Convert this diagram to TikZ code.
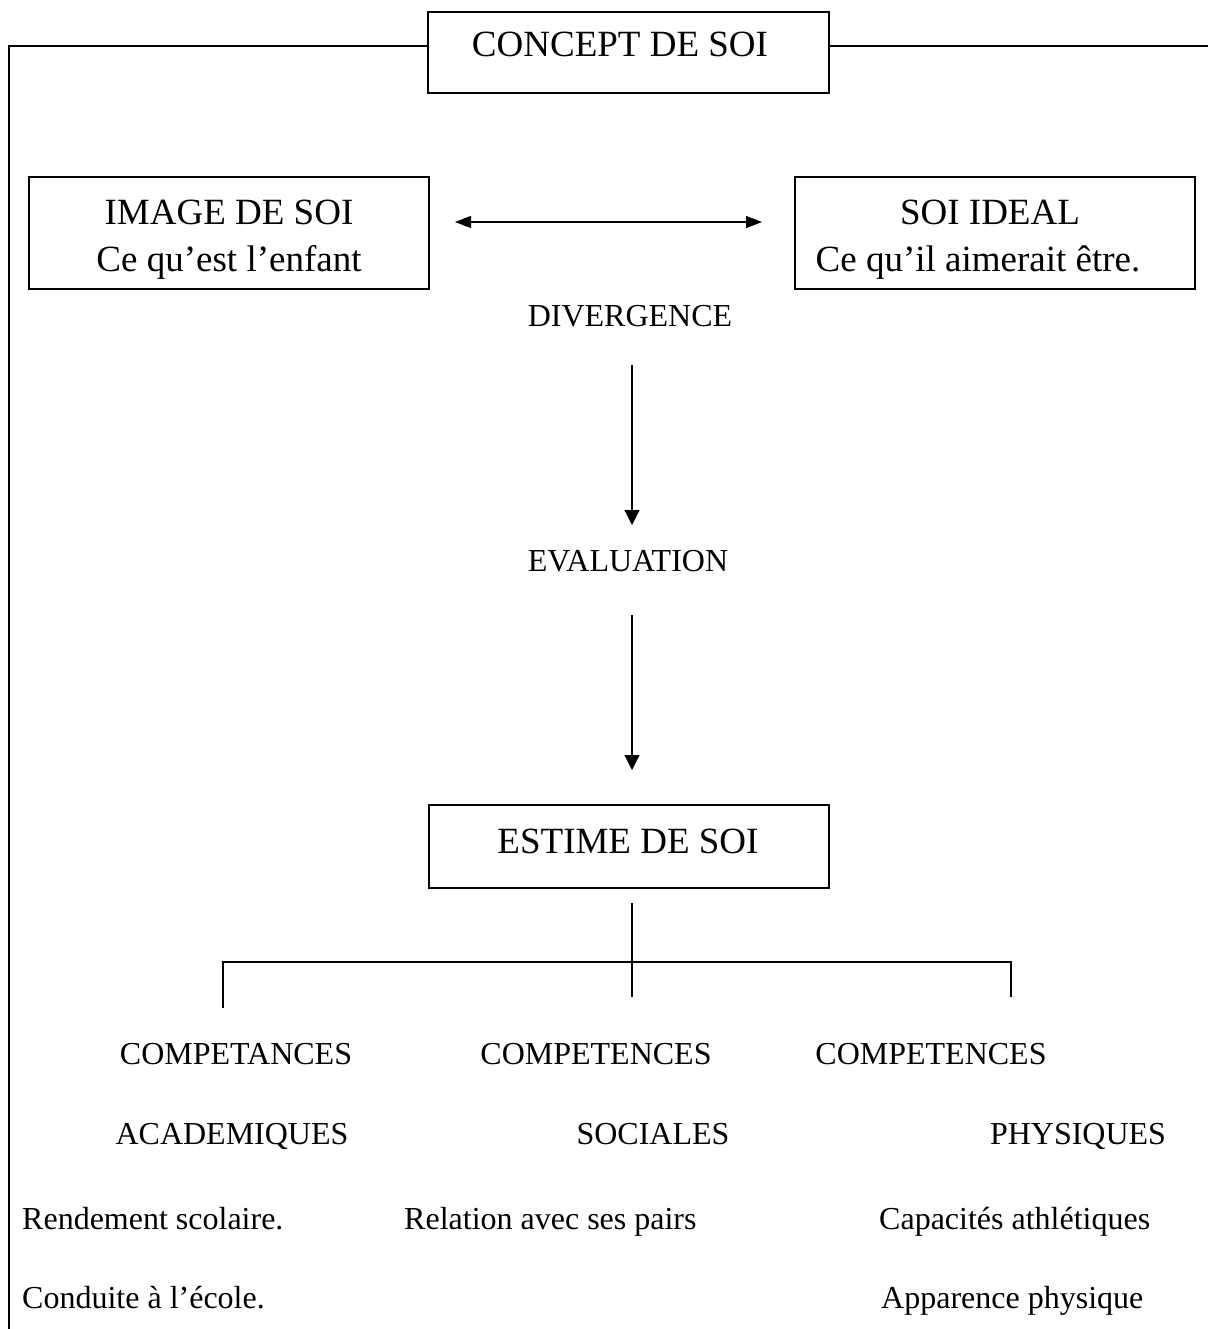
\documentclass[tikz,border=0pt]{standalone}
\usepackage{fontspec}
\setmainfont{Liberation Serif}
\usetikzlibrary{arrows.meta}
\begin{document}
\begin{tikzpicture}[x=1pt,y=-1pt,
  big/.style={font=\fontsize{37}{44}\selectfont, inner sep=0pt, anchor=base},
  small/.style={font=\fontsize{32}{38}\selectfont, inner sep=0pt, anchor=base},
  smallL/.style={font=\fontsize{32}{38}\selectfont, inner sep=0pt, anchor=base west},
  boxy/.style={draw, line width=1.5pt, inner sep=0pt, minimum width=400pt},
  frame/.style={line width=2.5pt},
  conn/.style={line width=1.2pt},
  arr/.style={line width=1.2pt, -{Triangle[width=15pt,length=15pt]}},
  dbl/.style={line width=1.3pt, {Triangle[width=12pt,length=16pt]}-{Triangle[width=12pt,length=16pt]}}
]
\useasboundingbox (0,0) rectangle (1208,1329);

% boxes
\node[boxy, minimum width=401pt, minimum height=81pt] (concept) at (628.5,52.5) {};
\node[boxy, minimum height=112pt] (img) at (229,233) {};
\node[boxy, minimum height=112pt] (ideal) at (995,233) {};
\node[boxy, minimum height=83pt] (estime) at (629,846.5) {};

% outer frame
\draw[frame] (concept.west |- 0,46) -- (9,46) -- (9,1329);
\draw[frame] (concept.east |- 0,46) -- (1208,46);

% box texts
\node[big] (conceptT) at (620,57) {CONCEPT DE SOI};
\node[big] (imgT1) at (229,225) {IMAGE DE SOI};
\node[big] (imgT2) at (229,272) {Ce qu’est l’enfant};
\node[big] (idealT1) at (990,225) {SOI IDEAL};
\node[big] (idealT2) at (978,272) {Ce qu’il aimerait être.};
\node[big] (estimeT) at (628,853) {ESTIME DE SOI};

% middle labels
\node[small] (div) at (630,326) {DIVERGENCE};
\node[small] (eval) at (628,571) {EVALUATION};

% arrows
\coordinate (d1) at (455,222);
\coordinate (d2) at (762,222);
\draw[dbl] (d1) -- (d2);
\coordinate (v1s) at (632,365);
\coordinate (v1e) at (632,525);
\draw[arr] (v1s) -- (v1e);
\coordinate (v2s) at (632,615);
\coordinate (v2e) at (632,770);
\draw[arr] (v2s) -- (v2e);

% tree
\coordinate (tTop) at (632,903);
\coordinate (tMid) at (632,997);
\coordinate (tL) at (223,962);
\coordinate (tR) at (1011,962);
\coordinate (tLb) at (223,1008);
\coordinate (tRb) at (1011,997);
\draw[conn] (tTop) -- (tMid);
\draw[conn] (tLb) -- (tL) -- (tR) -- (tRb);

% bottom labels
\node[small] (c1) at (236,1064) {COMPETANCES};
\node[small] (c2) at (596,1064) {COMPETENCES};
\node[small] (c3) at (931,1064) {COMPETENCES};
\node[small] (k1) at (232,1144) {ACADEMIQUES};
\node[small] (k2) at (653,1144) {SOCIALES};
\node[small] (k3) at (1078,1144) {PHYSIQUES};
\node[smallL] (r1) at (22,1229) {Rendement scolaire.};
\node[smallL] (r2) at (404,1229) {Relation avec ses pairs};
\node[smallL] (r3) at (879,1229) {Capacités athlétiques};
\node[smallL] (s1) at (22,1308) {Conduite à l’école.};
\node[smallL] (s3) at (881,1308) {Apparence physique};
\end{tikzpicture}
\end{document}
